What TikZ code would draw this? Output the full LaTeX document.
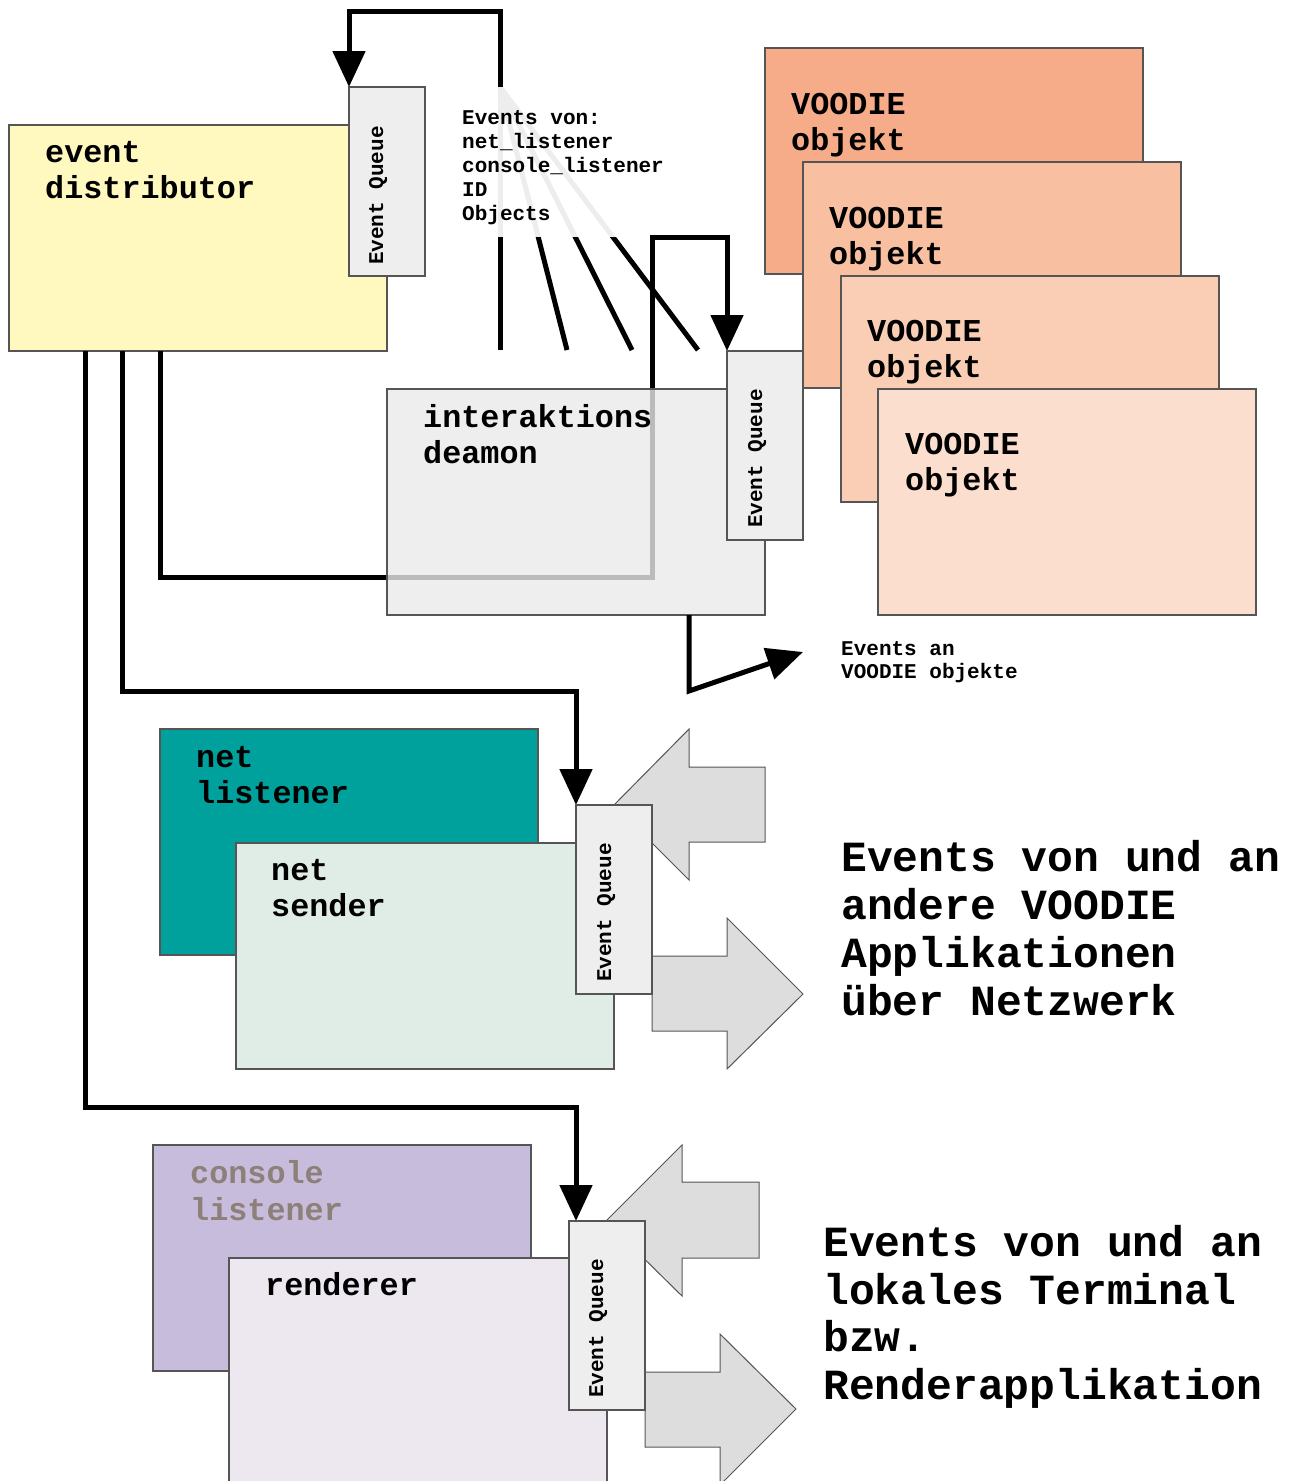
\documentclass[tikz,border=0pt]{standalone}
\usepackage{fontspec}
\setmonofont{Liberation Mono}
\usetikzlibrary{arrows.meta,calc}
\definecolor{boxline}{HTML}{555555}
\definecolor{distfill}{HTML}{FFF9C0}
\definecolor{queuefill}{HTML}{EEEEEE}
\definecolor{deamonfill}{HTML}{EAEAEA}
\definecolor{vone}{HTML}{F6AC88}
\definecolor{vtwo}{HTML}{F8BFA0}
\definecolor{vthree}{HTML}{FACEB4}
\definecolor{vfour}{HTML}{FCDECE}
\definecolor{tealfill}{HTML}{00A09C}
\definecolor{senderfill}{HTML}{E0EDE6}
\definecolor{consolefill}{HTML}{C8BCDC}
\definecolor{rendererfill}{HTML}{EDE8F0}
\definecolor{arrowfill}{HTML}{DDDDDD}
\definecolor{consoletext}{HTML}{8C8078}
\begin{document}
\begin{tikzpicture}[x=1pt,y=-1pt,
  box/.style={draw=boxline,line width=1.2pt,anchor=north west,inner sep=0pt,outer sep=0pt,minimum width=378pt,minimum height=226pt},
  queue/.style={draw=boxline,line width=1.2pt,fill=queuefill,anchor=north west,inner sep=0pt,outer sep=0pt,minimum width=76pt,minimum height=189pt},
  lbl/.style={anchor=base west,inner sep=0pt,font=\ttfamily\bfseries\fontsize{31.8}{36}\selectfont},
  small/.style={anchor=base west,inner sep=0pt,font=\ttfamily\bfseries\fontsize{21}{24}\selectfont},
  biglbl/.style={anchor=base west,inner sep=0pt,font=\ttfamily\bfseries\fontsize{43}{48}\selectfont},
  qlbl/.style={small,rotate=90},
  conn/.style={line width=5pt,black,line join=miter},
  tipped/.style={-{Triangle[width=32pt,length=36pt]}},
  bigarrow/.style={draw=boxline,line width=1pt,fill=arrowfill,line join=miter}]
\useasboundingbox (0,0) rectangle (1289,1481);
\clip (0,0) rectangle (1289,1481);

% VOODIE objects
\node[box,fill=vone] (v1) at (765,48) {};
\node[lbl] (v1a) at (791,114) {VOODIE};
\node[lbl] (v1b) at (791,150) {objekt};
\node[box,fill=vtwo] (v2) at (803,162) {};
\node[lbl] (v2a) at (829,228) {VOODIE};
\node[lbl] (v2b) at (829,264) {objekt};
\node[box,fill=vthree] (v3) at (841,276) {};
\node[lbl] (v3a) at (867,341) {VOODIE};
\node[lbl] (v3b) at (867,377) {objekt};
\node[box,fill=vfour] (v4) at (878,389) {};
\node[lbl] (v4a) at (905,454) {VOODIE};
\node[lbl] (v4b) at (905,490) {objekt};

% event distributor
\node[box,fill=distfill] (dist) at (9,125) {};
\node[lbl] (dista) at (45,162) {event};
\node[lbl] (distb) at (45,198) {distributor};

% fan of incoming events
\coordinate (hub) at (500,87);
\coordinate (f1) at (500,350);
\coordinate (f2) at (567,350);
\coordinate (f3) at (632,350);
\coordinate (f4) at (698,350);
\draw[conn] (f1) -- (hub);
\draw[conn] (f2) -- (hub);
\draw[conn] (f3) -- (hub);
\draw[conn] (f4) -- (hub);
\fill[white,fill opacity=0.93] (455,87) rectangle (720,237);
\node[small] (ev1) at (462,124) {Events von:};
\node[small] (ev2) at (462,148) {net\_listener};
\node[small] (ev3) at (462,172) {console\_listener};
\node[small] (ev4) at (462,196) {ID};
\node[small] (ev5) at (462,220) {Objects};

% interaktions deamon, its queue and the loop into it
\node[queue] (q2) at (727,351) {};
\draw[conn,tipped] ($(dist.south west)+(151,0)$) -- (160,577) -- (652,577) -- (652,237) -- (727,237) -- (q2.north west);
\node[box,fill=deamonfill,fill opacity=0.8] (deamon) at (387,389) {};
\node[lbl] (deamona) at (423,427) {interaktions};
\node[lbl] (deamonb) at (423,463) {deamon};
\node[queue] (q2b) at (727,351) {};
\node[qlbl] (q2t) at (762,528) {Event Queue};

% connectors from the distributor
\draw[conn,tipped] ($(dist.south west)+(113,0)$) -- (122,691) -- (576,691) -- (576,805);
\draw[conn,tipped] ($(dist.south west)+(76,0)$) -- (85,1107) -- (576,1107) -- (576,1221);

% arrow to VOODIE objects
\coordinate (objtip) at (803,652);
\draw[conn,tipped] ($(deamon.south west)+(302,0)$) -- (689,691) -- (objtip);
\node[small] (evan1) at (841,655) {Events an};
\node[small] (evan2) at (841,678) {VOODIE objekte};

% queue of distributor
\node[queue] (q1) at (349,87) {};
\node[qlbl] (q1t) at (383,265) {Event Queue};
\draw[conn,tipped] (hub) -- (500,11) -- (349,11) -- (q1.north west);

% net listener / sender
\node[box,fill=tealfill] (netl) at (160,729) {};
\node[lbl] (netla) at (196,767) {net};
\node[lbl] (netlb) at (196,803) {listener};
\draw[bigarrow] (614,805) -- (689,729) -- (689,767) -- (765,767) -- (765,842) -- (689,842) -- (689,880) -- cycle;
\draw[bigarrow] (652,956) -- (727,956) -- (727,918) -- (803,994) -- (727,1069) -- (727,1031) -- (652,1031) -- cycle;
\node[box,fill=senderfill] (nets) at (236,843) {};
\node[lbl] (netsa) at (271,880) {net};
\node[lbl] (netsb) at (271,916) {sender};
\node[queue] (q3) at (576,805) {};
\node[qlbl] (q3t) at (611,982) {Event Queue};

\node[biglbl] (t1a) at (841,871) {Events von und an};
\node[biglbl] (t1b) at (841,919) {andere VOODIE};
\node[biglbl] (t1c) at (841,967) {Applikationen};
\node[biglbl] (t1d) at (841,1015) {über Netzwerk};

% console listener / renderer
\node[box,fill=consolefill] (conl) at (153,1145) {};
\node[lbl,text=consoletext] (conla) at (190,1183) {console};
\node[lbl,text=consoletext] (conlb) at (190,1220) {listener};
\draw[bigarrow] (606,1221) -- (682,1145) -- (682,1182) -- (759,1182) -- (759,1258) -- (682,1258) -- (682,1296) -- cycle;
\draw[bigarrow] (645,1372) -- (720,1372) -- (720,1334) -- (796,1409) -- (720,1485) -- (720,1447) -- (645,1447) -- cycle;
\node[box,fill=rendererfill,minimum height=260pt] (rend) at (229,1258) {};
\node[lbl] (renda) at (265,1295) {renderer};
\node[queue] (q4) at (569,1221) {};
\node[qlbl] (q4t) at (603,1398) {Event Queue};

\node[biglbl] (t2a) at (823,1256) {Events von und an};
\node[biglbl] (t2b) at (823,1304) {lokales Terminal};
\node[biglbl] (t2c) at (823,1351) {bzw.};
\node[biglbl] (t2d) at (823,1399) {Renderapplikation};
\end{tikzpicture}
\end{document}
